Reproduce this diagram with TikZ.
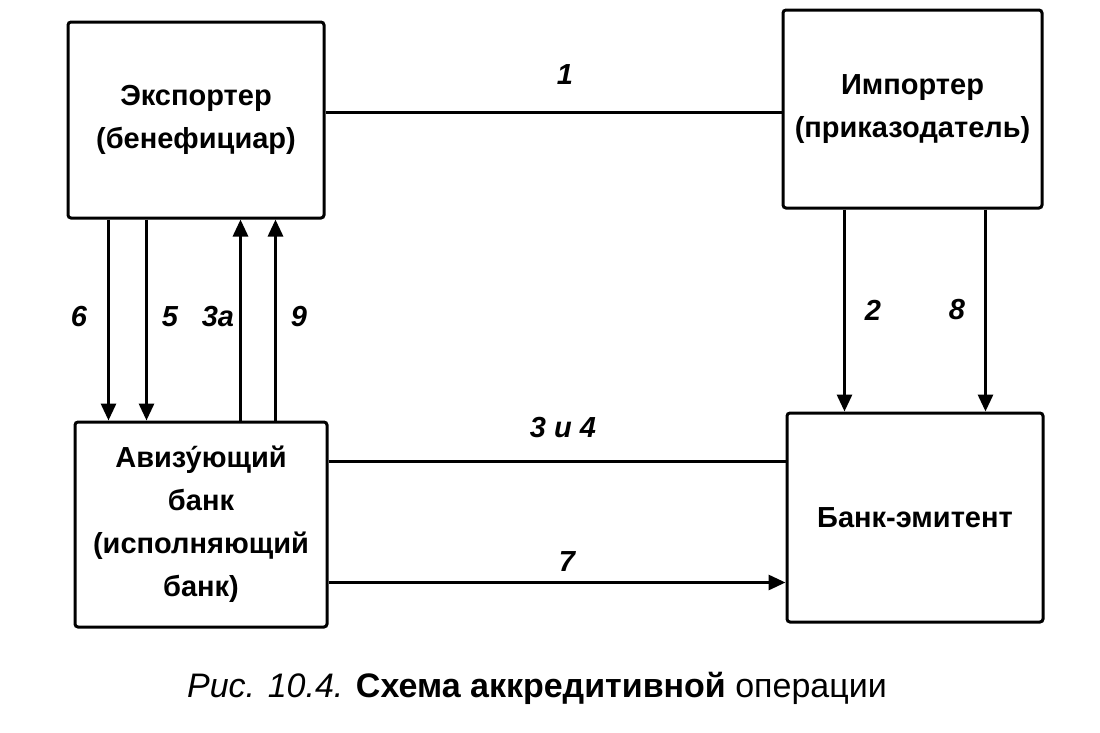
\documentclass[tikz,border=0pt]{standalone}
\usepackage{fontspec}
\setmainfont{Liberation Sans}
\usetikzlibrary{arrows.meta}
\begin{document}
\begin{tikzpicture}[x=1pt,y=-1pt,
  blk/.style={draw,line width=3pt,rounded corners=3pt,align=center,inner sep=0pt,
    font=\fontsize{29}{43}\selectfont\bfseries},
  conn/.style={line width=3pt},
  arr/.style={line width=3pt,-{Triangle[width=15pt,length=17pt]}},
  num/.style={font=\fontsize{29}{30}\selectfont\bfseries\itshape,inner sep=0pt}]
\useasboundingbox (0,0) rectangle (1100,732);
% boxes
\node[blk,minimum width=256pt,minimum height=196pt] (exp) at (196,120) {Экспортер\\(бенефициар)};
\node[blk,minimum width=259pt,minimum height=198pt] (imp) at (912.5,109) {Импортер\\(приказодатель)};
\node[blk,minimum width=252pt,minimum height=205pt] (adv) at (201,524.5) {Авизу́ющий\\банк\\(исполняющий\\банк)};
\node[blk,minimum width=256pt,minimum height=209pt] (iss) at (915,517.5) {Банк-эмитент};
% connector 1
\draw[conn] ([yshift=8pt]exp.east) -- ([yshift=8pt]exp.east -| imp.west);
% exporter <-> advising bank
\draw[arr] ([xshift=42pt]exp.south west) -- ([xshift=42pt]exp.south west |- adv.north);
\draw[arr] ([xshift=80pt]exp.south west) -- ([xshift=80pt]exp.south west |- adv.north);
\draw[arr] ([xshift=167pt]adv.north west) -- ([xshift=167pt]adv.north west |- exp.south);
\draw[arr] ([xshift=202pt]adv.north west) -- ([xshift=202pt]adv.north west |- exp.south);
% importer -> issuing bank
\draw[arr] ([xshift=63pt]imp.south west) -- ([xshift=63pt]imp.south west |- iss.north);
\draw[arr] ([xshift=204pt]imp.south west) -- ([xshift=204pt]imp.south west |- iss.north);
% advising <-> issuing
\draw[conn] ([yshift=63pt]adv.east) -- ([yshift=63pt]adv.east -| iss.west);
\draw[arr] ([yshift=-58pt]adv.east) -- ([yshift=-58pt]adv.east -| iss.west);
% labels
\node[num] (l1) at (565,75) {1};
\node[num] (l6) at (79,317) {6};
\node[num] (l5) at (170,317) {5};
\node[num] (l3a) at (218,317) {3а};
\node[num] (l9) at (299,317) {9};
\node[num] (l2) at (873,310) {2};
\node[num] (l8) at (957,310) {8};
\node[num] (l34) at (563,428) {3 и 4};
\node[num] (l7) at (567,562) {7};
% caption
\node[inner sep=0pt,font=\fontsize{34}{36}\selectfont] (cap) at (537,688)
  {\textit{Рис. 10.4.} \textbf{Схема аккредитивной} операции};
\end{tikzpicture}
\end{document}
